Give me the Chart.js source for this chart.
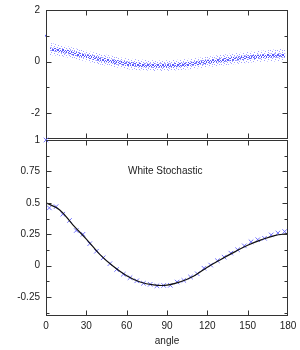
<!DOCTYPE html>
<html>
<head>
<meta charset="utf-8">
<script src="https://cdn.jsdelivr.net/npm/chart.js@4.4.1/dist/chart.umd.min.js"></script>
<style>
  body { margin: 0; background: #fff; }
  #caixa { position: relative; width: 300px; height: 350px; }
  #topo { position: absolute; left: 0; top: 0; }
  #baixo { position: absolute; left: 0; top: 130px; }
</style>
</head>
<body>
<div id="caixa">
  <canvas id="topo" width="300" height="145"></canvas>
  <canvas id="baixo" width="300" height="220"></canvas>
</div>
<script>
// eixo x (graus)
const xTicks = [0, 30, 60, 90, 120, 150, 180]

// painel de cima: faixa dos pontos (bordas)
const faixaAngulos = [3, 10, 20, 30, 40, 50, 60, 70, 80, 90, 100, 110, 120, 130, 140, 150, 160, 170, 178]
const faixaAlta = [0.72, 0.66, 0.54, 0.42, 0.31, 0.21, 0.13, 0.08, 0.05, 0.05, 0.08, 0.13, 0.2, 0.26, 0.32, 0.37, 0.42, 0.47, 0.5]
const faixaBaixa = [0.26, 0.22, 0.12, 0.0, -0.11, -0.21, -0.29, -0.34, -0.36, -0.36, -0.33, -0.28, -0.22, -0.16, -0.1, -0.05, -0.01, 0.0, 0.02]
const nucleoAlto = [0.55, 0.52, 0.41, 0.29, 0.18, 0.08, 0.0, -0.05, -0.075, -0.075, -0.045, 0.005, 0.07, 0.13, 0.19, 0.24, 0.28, 0.31, 0.31]
const nucleoBaixo = [0.43, 0.36, 0.25, 0.13, 0.02, -0.08, -0.16, -0.21, -0.235, -0.235, -0.205, -0.155, -0.09, -0.03, 0.03, 0.08, 0.12, 0.155, 0.18]
const pontoIsoladoX = [0]
const pontoIsoladoY = [1]
const topoTicks = [-2, 0, 2]
const topoMenores = [-1, 1]

// painel de baixo
const curvaAngulos = [0, 10, 20, 30, 40, 50, 60, 70, 80, 90, 100, 110, 120, 130, 140, 150, 160, 170, 180]
const curvaValores = [0.5, 0.445, 0.325, 0.212, 0.09, -0.005, -0.08, -0.13, -0.153, -0.155, -0.128, -0.082, -0.012, 0.05, 0.108, 0.163, 0.206, 0.24, 0.255]
const marcasAngulos = [0, 2.5, 7.5, 12.5, 17.5, 22.5, 27.5, 32.5, 37.5, 42.5, 47.5, 52.5, 57.5, 62.5, 67.5, 72.5, 77.5, 82.5, 87.5,
  92.5, 97.5, 102.5, 107.5, 112.5, 117.5, 122.5, 127.5, 132.5, 137.5, 142.5, 147.5, 152.5, 157.5, 162.5, 167.5, 172.5, 177.5]
const marcasValores = [1, 0.46, 0.47, 0.41, 0.36, 0.28, 0.25, 0.175, 0.115, 0.063, 0.016, -0.03, -0.068, -0.095, -0.12, -0.14, -0.148, -0.16, -0.157,
  -0.156, -0.13, -0.117, -0.09, -0.064, -0.02, 0.005, 0.04, 0.068, 0.1, 0.127, 0.158, 0.19, 0.207, 0.218, 0.245, 0.26, 0.272]
const baixoTicks = [-0.25, 0, 0.25, 0.5, 0.75, 1]
const baixoMenores = [-0.375, -0.125, 0.125, 0.375, 0.625, 0.875]

const fonte = { family: 'Liberation Sans, Arial, sans-serif', size: 10 }
const corTexto = '#222'
const corEixo = '#333'

function pares(xs, ys){
    return xs.map(function(v, i){ return {x: v, y: ys[i]} })
}

function faz_padrao(ctx, tam, pontos, cor){
    const c = document.createElement('canvas')
    c.width = tam
    c.height = tam
    const g = c.getContext('2d')
    g.fillStyle = cor
    pontos.forEach(function(p){ g.fillRect(p[0], p[1], 1, 1) })
    return ctx.createPattern(c, 'repeat')
}

// moldura com tiques para dentro, como no gnuplot
const moldura = {
    id: 'moldura',
    afterDatasetsDraw(chart, args, opts){
        const ctx = chart.ctx
        const a = chart.chartArea
        const sx = chart.scales.x
        const sy = chart.scales.y
        const L = Math.round(a.left) + 0.5
        const R = Math.round(a.right) - 0.5
        const T = Math.round(a.top) + 0.5
        const B = Math.round(a.bottom) - 0.5
        ctx.save()
        ctx.strokeStyle = corEixo
        ctx.lineWidth = 1
        ctx.strokeRect(L, T, R - L, B - T)
        ctx.beginPath()
        xTicks.forEach(function(v){
            if (v <= 0 || v >= 180) return
            const px = Math.round(sx.getPixelForValue(v)) + 0.5
            ctx.moveTo(px, T); ctx.lineTo(px, T + 5)
            ctx.moveTo(px, B); ctx.lineTo(px, B - 5)
        })
        opts.maiores.forEach(function(v){
            const py = Math.round(sy.getPixelForValue(v)) + 0.5
            ctx.moveTo(L, py); ctx.lineTo(L + 5, py)
            ctx.moveTo(R, py); ctx.lineTo(R - 5, py)
        })
        opts.menores.forEach(function(v){
            const py = Math.round(sy.getPixelForValue(v)) + 0.5
            ctx.moveTo(L, py); ctx.lineTo(L + 3, py)
            ctx.moveTo(R, py); ctx.lineTo(R - 3, py)
        })
        ctx.stroke()
        if (opts.textos) {
            ctx.fillStyle = corTexto
            ctx.font = fonte.size + 'px ' + fonte.family
            ctx.textBaseline = 'middle'
            opts.textos.forEach(function(t){
                ctx.textAlign = t.align
                const px = t.dx !== undefined ? sx.getPixelForValue(t.dx) : t.px
                const py = t.dy !== undefined ? sy.getPixelForValue(t.dy) : t.py
                ctx.fillText(t.texto, px, py)
            })
        }
        ctx.restore()
    }
}

function eixo_y(min, max, ticks){
    return {
        min: min, max: max,
        afterFit: function(s){ s.width = 46; s.paddingTop = 0; s.paddingBottom = 0 },
        afterBuildTicks: function(s){ s.ticks = ticks.map(function(v){ return {value: v} }) },
        grid: { display: false, drawTicks: false },
        border: { display: false },
        ticks: { font: fonte, color: corTexto, padding: 6, callback: function(v){ return String(v) } }
    }
}

function desenha_topo(){
    const canvas = document.getElementById('topo')
    const ctx = canvas.getContext('2d')
    const padraoFaixa = faz_padrao(ctx, 7, [[0,0],[4,1],[2,3],[6,2],[1,5],[5,4],[3,6],[6,6],[2,1]], 'rgba(70,70,255,0.5)')
    const padraoNucleo = faz_padrao(ctx, 5, [[0,0],[2,0],[4,1],[1,2],[3,2],[0,3],[4,3],[2,4],[3,4],[1,1],[3,0]], 'rgba(35,35,255,0.75)')

    new Chart(ctx, {
        type: 'line',
        data: {
            datasets: [
                { data: pares(faixaAngulos, faixaBaixa), borderWidth: 0, pointRadius: 0, fill: false, tension: 0.3 },
                { data: pares(faixaAngulos, faixaAlta), borderWidth: 0, pointRadius: 0, fill: '-1', backgroundColor: padraoFaixa, tension: 0.3 },
                { data: pares(faixaAngulos, nucleoBaixo), borderWidth: 0, pointRadius: 0, fill: false, tension: 0.3 },
                { data: pares(faixaAngulos, nucleoAlto), borderWidth: 0, pointRadius: 0, fill: '-1', backgroundColor: padraoNucleo, tension: 0.3 },
                { data: pares(pontoIsoladoX, pontoIsoladoY), showLine: false, pointRadius: 1, pointBorderWidth: 0,
                  pointBackgroundColor: 'rgba(60,60,255,0.9)', clip: false }
            ]
        },
        options: {
            responsive: false,
            animation: false,
            layout: { padding: { top: 10, bottom: 6, left: 0, right: 12 } },
            plugins: {
                legend: { display: false },
                tooltip: { enabled: false },
                moldura: { maiores: topoTicks, menores: topoMenores }
            },
            scales: {
                x: { type: 'linear', min: 0, max: 180, display: false },
                y: eixo_y(-3, 2, topoTicks)
            }
        },
        plugins: [moldura]
    })
}

function desenha_baixo(){
    const ctx = document.getElementById('baixo').getContext('2d')
    new Chart(ctx, {
        type: 'line',
        data: {
            datasets: [
                { data: pares(curvaAngulos, curvaValores), borderColor: '#111', borderWidth: 1.2, pointRadius: 0,
                  tension: 0.4, fill: false, order: 0 },
                { data: pares(marcasAngulos, marcasValores), showLine: false, pointStyle: 'crossRot', pointRadius: 3.2,
                  pointBorderColor: 'rgba(90,90,255,0.85)', pointBorderWidth: 1, clip: false, order: 1 }
            ]
        },
        options: {
            responsive: false,
            animation: false,
            layout: { padding: { top: 10, bottom: 0, left: 0, right: 12 } },
            plugins: {
                legend: { display: false },
                tooltip: { enabled: false },
                moldura: {
                    maiores: baixoTicks,
                    menores: baixoMenores,
                    textos: [
                        { texto: 'White Stochastic', dx: 61, dy: 0.75, align: 'left' },
                        { texto: 'angle', dx: 90, py: 211, align: 'center' }
                    ]
                }
            },
            scales: {
                x: {
                    type: 'linear', min: 0, max: 180,
                    afterFit: function(s){ s.height = 34; s.paddingLeft = 0; s.paddingRight = 0 },
                    afterBuildTicks: function(s){ s.ticks = xTicks.map(function(v){ return {value: v} }) },
                    grid: { display: false, drawTicks: false },
                    border: { display: false },
                    ticks: { font: fonte, color: corTexto, padding: 4, maxRotation: 0, callback: function(v){ return String(v) } }
                },
                y: eixo_y(-0.4, 1, baixoTicks)
            }
        },
        plugins: [moldura]
    })
}

desenha_topo()
desenha_baixo()
</script>
</body>
</html>
